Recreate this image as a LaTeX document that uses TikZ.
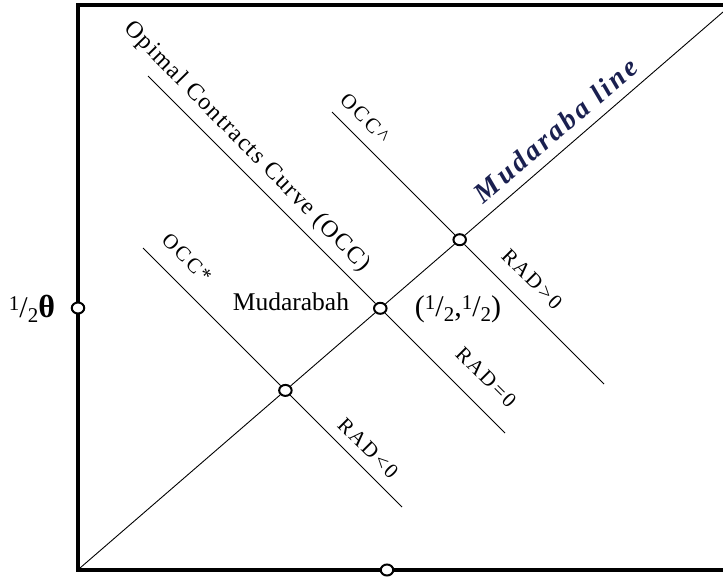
\documentclass[tikz,border=0pt]{standalone}
\usepackage{fontspec}
\usetikzlibrary{shapes.geometric}
\setmainfont{Liberation Serif}
\newfontfamily\spaced[LetterSpace=6]{Liberation Serif}
\newfontfamily\spacedw[LetterSpace=11]{Liberation Serif}
\definecolor{mudblue}{HTML}{1A2050}
\begin{document}
\begin{tikzpicture}[x=1pt,y=-1pt,
  frame/.style={line width=3.2pt},
  thinline/.style={line width=0.9pt},
  dot/.style={ellipse,draw,fill=white,line width=2pt,inner sep=0pt,minimum width=12.5pt,minimum height=11pt},
  rotlabel/.style={font=\spacedw\fontsize{21}{24}\selectfont,inner sep=0pt},
  plainlabel/.style={font=\fontsize{25.5}{28}\selectfont,inner sep=0pt}]
\useasboundingbox (0,0) rectangle (723,576);
% frame
\coordinate (TR) at (723,5);
\coordinate (TL) at (78,5);
\coordinate (BL) at (78,570);
\coordinate (BR) at (723,570);
\draw[frame] (TR) -- (TL) -- (BL) -- (BR);
% line end points
\coordinate (O) at (80,568);
\coordinate (E) at (723,12);
\coordinate (occA) at (148,76);
\coordinate (occB) at (505,433);
\coordinate (hatA) at (332,112);
\coordinate (hatB) at (604,384);
\coordinate (starA) at (143,248);
\coordinate (starB) at (402,507);
% intersection points
\node[dot] (m) at (380.3,308.3) {};
\node[dot] (h) at (459.7,239.7) {};
\node[dot] (s) at (285.4,390.4) {};
% lines
\draw[thinline] (O) -- (s) -- (m) -- (h) -- (E);
\draw[thinline] (occA) -- (m) -- (occB);
\draw[thinline] (hatA) -- (h) -- (hatB);
\draw[thinline] (starA) -- (s) -- (starB);
% axis marks
\node[dot] (ax) at (78,308) {};
\node[dot] (bx) at (387,570) {};
% labels
\node[rotlabel,rotate=-45.5,font=\spaced\fontsize{24}{27}\selectfont] (occlab) at (247,147) {Opimal Contracts Curve (OCC)};
\node[rotlabel,rotate=-45] (hatlab) at (365,118) {OCC\textasciicircum};
\node[rotlabel,rotate=-45] (starlab) at (187,258) {OCC*};
\node[rotlabel,rotate=-45] (radp) at (532,279) {RAD>0};
\node[rotlabel,rotate=-45] (radz) at (486,377) {RAD=0};
\node[rotlabel,rotate=-45] (radn) at (368,448) {RAD<0};
\node[rotlabel,rotate=40.5,text=mudblue,font=\spacedw\bfseries\itshape\fontsize{28}{31}\selectfont] (mudlab) at (556,130) {Mudaraba line};
\node[plainlabel] (mud) at (291,302) {Mudarabah};
\node[plainlabel,font=\fontsize{30}{32}\selectfont] (half) at (458,309) {(\raisebox{0.5ex}{\fontsize{21}{21}\selectfont 1}/\raisebox{-0.4ex}{\fontsize{21}{21}\selectfont 2},\raisebox{0.5ex}{\fontsize{21}{21}\selectfont 1}/\raisebox{-0.4ex}{\fontsize{21}{21}\selectfont 2})};
\node[plainlabel,font=\fontsize{30}{32}\selectfont] (theta) at (32,309) {\raisebox{0.5ex}{\fontsize{21}{21}\selectfont 1}/\raisebox{-0.4ex}{\fontsize{21}{21}\selectfont 2}\textbf{\fontsize{32}{34}\selectfont θ}};
\end{tikzpicture}
\end{document}
